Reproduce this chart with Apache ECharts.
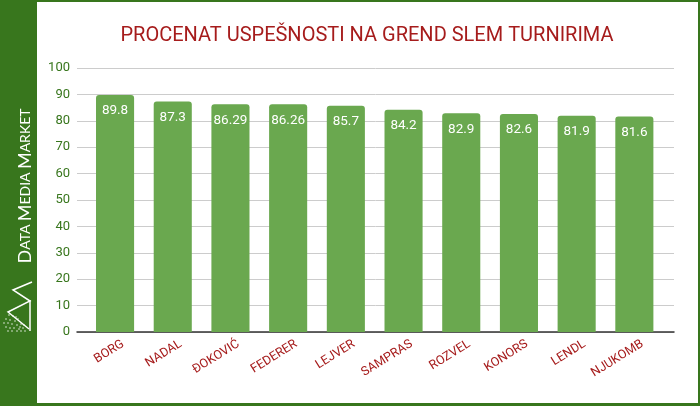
<!DOCTYPE html>
<html>
<head>
<meta charset="utf-8">
<script src="https://cdn.jsdelivr.net/npm/echarts@6/dist/echarts.min.js"></script>
<style>html,body{margin:0;padding:0;background:#38761d;}#c{width:700px;height:406px;}</style>
</head>
<body>
<div id="c"></div>
<script>
const categories = ['BORG', 'NADAL', 'ĐOKOVIĆ', 'FEDERER', 'LEJVER', 'SAMPRAS', 'ROZVEL', 'KONORS', 'LENDL', 'NJUKOMB'];
const values = [89.8, 87.3, 86.29, 86.26, 85.7, 84.2, 82.9, 82.6, 81.9, 81.6];
const yTicks = [0, 10, 20, 30, 40, 50, 60, 70, 80, 90, 100];
const titleText = 'PROCENAT USPEŠNOSTI NA GREND SLEM TURNIRIMA';

const chart = echarts.init(document.getElementById('c'), null, {renderer: 'canvas'});
const dots = [[9,315],[13,316],[6,319],[10,320],[15,321],[18,319],[8,323],[12,324],[17,325],[21,324],[6,327],[10,328],[14,328],[19,329],[23,328],[8,331],[12,331],[17,331],[21,331],[25,331],[16,317],[20,327],[24,325],[4,323]];
const graphics = [
  {type:'rect', shape:{x:0,y:0,width:700,height:406}, style:{fill:'#38761d'}, z:-10},
  {type:'rect', shape:{x:37,y:2,width:661,height:401}, style:{fill:'#ffffff'}, z:-9},
  {type:'text', x:25, y:186, rotation:Math.PI/2, style:{
    text:'{b|D}{s|ATA} {b|M}{s|EDIA} {b|M}{s|ARKET}',
    rich:{b:{fontSize:18,fill:'#ffffff',fontFamily:'Lato'}, s:{fontSize:14,fill:'#ffffff',fontFamily:'Lato'}},
    align:'center', verticalAlign:'middle'}},
  {type:'polyline', shape:{points:[[32,282],[13,290],[30,301],[8,312],[29,329]]}, style:{stroke:'#ffffff',lineWidth:1.5,fill:null}},
  {type:'line', shape:{x1:30,y1:300,x2:30,y2:331}, style:{stroke:'#ffffff',lineWidth:1.5}}
];
dots.forEach(d => graphics.push({type:'circle', shape:{cx:d[0],cy:d[1],r:0.8}, style:{fill:'#ffffff', opacity:0.85}}));

chart.setOption({
  animation:false,
  title:{text:titleText, left:362, textAlign:'center', top:21, textStyle:{color:'#a61c1c', fontSize:20, fontWeight:'normal', fontFamily:'Roboto'}},
  graphic: graphics,
  grid:[
    {left:77, right:26, top:68, bottom:74},
    {left:86.2, right:36.8, top:68, bottom:74},
    {left:94.2, right:28.8, top:68, bottom:74}
  ],
  xAxis:[
    {gridIndex:0, type:'category', data:categories,
      axisLine:{lineStyle:{color:'#333333', width:1.5}},
      axisTick:{show:false}, axisLabel:{show:false}},
    {gridIndex:1, type:'category', data:categories,
      axisLine:{show:false}, axisTick:{show:false}, axisLabel:{show:false}},
    {gridIndex:2, type:'category', data:categories,
      axisLine:{show:false}, axisTick:{show:false},
      axisLabel:{rotate:32, color:'#a61c1c', fontSize:12.5, fontFamily:'Roboto', margin:11, interval:0}}
  ],
  yAxis:[
    {gridIndex:0, type:'value', min:0, max:100, interval:10,
      axisLine:{show:false}, axisTick:{show:false},
      splitLine:{lineStyle:{color:'#cccccc'}},
      axisLabel:{color:'#38761d', fontSize:13, fontFamily:'Roboto', margin:7,
        formatter: v => yTicks.includes(v) ? String(v) : ''}},
    {gridIndex:1, type:'value', min:0, max:100, interval:10, show:false, splitLine:{show:false}},
    {gridIndex:2, type:'value', min:0, max:100, interval:10, show:false, splitLine:{show:false}}
  ],
  series:[{type:'bar', xAxisIndex:1, yAxisIndex:1, data:values, barWidth:'66%',
    itemStyle:{color:'#6aa84f', borderRadius:[3,3,0,0]},
    label:{show:true, position:'insideTop', distance:9, color:'#ffffff', fontSize:13.5, fontFamily:'Roboto'}}]
});
</script>
</body>
</html>
